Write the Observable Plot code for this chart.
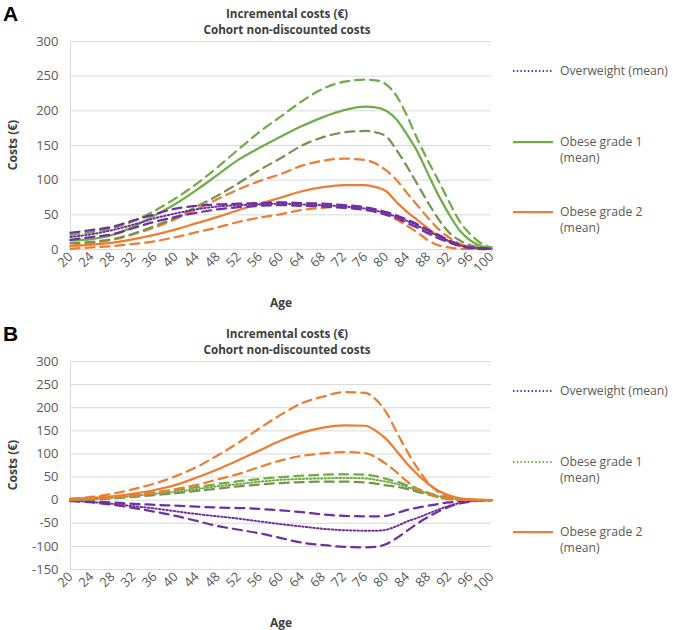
<!DOCTYPE html>
<html><head><meta charset="utf-8">
<script src="https://cdn.jsdelivr.net/npm/d3@7"></script>
<script src="https://cdn.jsdelivr.net/npm/@observablehq/plot@0.6"></script>
<style>
body{margin:0;background:#fff;}
#wrap{position:relative;width:673px;height:630px;font-family:"Open Sans","Noto Sans",sans-serif;overflow:hidden;}
.abs{position:absolute;white-space:nowrap;}
.letter{font-family:"Liberation Sans",Arial,sans-serif;font-weight:bold;font-size:21px;color:#000;}
.title{font-weight:bold;font-size:11.7px;color:#404040;line-height:16px;}
.axlab{font-weight:bold;font-size:12px;color:#404040;}
.leg{font-size:12.2px;color:#595959;line-height:16px;}
svg.plot{position:absolute;left:0;}
</style></head><body><div id="wrap"></div>
<script>
// ---------- data ----------
const ages = [20,24,28,32,36,40,44,48,52,56,60,64,68,72,76,78,80,82,84,86,88,90,92,94,96,98,100];
const xTickLabels = [20,24,28,32,36,40,44,48,52,56,60,64,68,72,76,80,84,88,92,96,100];
const yTicksA = [0,50,100,150,200,250,300];
const yTicksB = [-150,-100,-50,0,50,100,150,200,250,300];

// Panel A
const aOwMean = [18,22,28,36,45,52,58,62,64,65,66,65,64,62,59,56,52,47,41,34,26,19,12,6,3,1.5,1];
const aOwHigh = [24,28,33,42,51,59,63,65,66,67,68,67,66,64,61,58,54,49,43,36,28,21,13,7,3,2,1];
const aOwLow  = [14,18,22,31,40,47,53,58,61,63,64,63,62,60,57,54,50,45,38,31,23,16,10,5,2,1,1];
const aOb1Mean = [13,15,21,33,49,66,86,108,130,147,163,178,191,201,206,205,200,187,165,140,108,77,50,27,13,5,2];
const aOb1High = [21,25,31,41,56,74,95,119,145,170,192,214,232,242,245,244,238,221,192,158,127,98,68,40,22,9,3];
const aOb1Low  = [9,11,15,23,34,46,62,78,96,115,132,150,162,169,171,169,163,143,119,93,67,43,24,13,6,3,1];
const aOb2Mean = [5,7,10,15,21,29,38,47,57,66,75,84,90,93,93,90,84,68,54,42,30,19,11,6,3,1.5,1];
const aOb2High = [5,9,14,22,32,44,58,73,87,99,109,121,128,131,129,124,114,100,81,63,45,29,17,8,4,2,1];
const aOb2Low  = [1,3,5,8,12,18,25,32,40,46,51,57,60,62,60,57,52,43,34,24,13,6,3,1,1,0.5,0];

// Panel B
const bOwMean = [-1,-4,-8,-13,-18,-24,-30,-35,-40,-46,-52,-57,-62,-65,-66,-66,-64,-56,-46,-38,-29,-20,-12,-6,-2,-1,0];
const bOwHigh = [-1,-3,-5,-8,-10,-12,-14,-16,-17,-19,-22,-26,-31,-34,-35,-35,-34,-28,-21,-16,-12,-8,-5,-3,-1,0,0];
const bOwLow  = [-2,-5,-10,-17,-25,-34,-45,-56,-64,-72,-82,-92,-97,-101,-102,-101,-95,-82,-66,-50,-36,-24,-14,-7,-3,-1,0];
const bOb1Mean = [1,2,5,9,14,18,24,30,35,40,44,46,47,48,47,44,40,35,28,21,14,8,4,2,1,0,0];
const bOb1High = [2,4,7,12,17,22,28,35,41,46,50,53,55,56,55,52,46,40,32,24,16,9,5,2,1,0,0];
const bOb1Low  = [0,1,4,7,11,15,20,25,30,34,37,39,40,40,38,36,32,29,24,18,12,7,3,1,0,0,0];
const bOb2Mean = [3,5,8,14,22,33,49,67,87,108,129,146,157,162,161,150,132,106,78,55,35,20,10,4,2,1,0];
const bOb2High = [3,7,14,24,36,52,72,97,125,156,185,210,224,234,232,218,190,147,105,68,37,17,7,3,1,0,0];
const bOb2Low  = [1,3,6,10,16,24,33,45,57,72,86,96,101,104,102,93,78,60,40,24,14,6,2,1,0,0,0];

// ---------- styles ----------
const PURPLE = "#7030A0", GREEN = "#70AD47", OLIVE = "#7B9152", ORANGE = "#ED7D31";
const DASH = "9,6", DOT = "1.5,2.2";

const seriesA = [
  {v: aOb2Low, c: ORANGE, d: DASH, w: 2.25},
  {v: aOb2High, c: ORANGE, d: DASH, w: 2.25},
  {v: aOb2Mean, c: ORANGE, d: null, w: 2.25},
  {v: aOb1Low, c: OLIVE, d: DASH, w: 2.25},
  {v: aOb1High, c: GREEN, d: DASH, w: 2.25},
  {v: aOb1Mean, c: GREEN, d: null, w: 2.25},
  {v: aOwLow, c: PURPLE, d: DASH, w: 2.25},
  {v: aOwHigh, c: PURPLE, d: DASH, w: 2.25},
  {v: aOwMean, c: PURPLE, d: DOT, w: 2},
];
const seriesB = [
  {v: bOwLow, c: PURPLE, d: DASH, w: 2.25},
  {v: bOwHigh, c: PURPLE, d: DASH, w: 2.25},
  {v: bOwMean, c: PURPLE, d: DOT, w: 2},
  {v: bOb1Low, c: OLIVE, d: DASH, w: 2.25},
  {v: bOb1High, c: GREEN, d: DASH, w: 2.25},
  {v: bOb1Mean, c: GREEN, d: DOT, w: 2},
  {v: bOb2Low, c: ORANGE, d: DASH, w: 2.25},
  {v: bOb2High, c: ORANGE, d: DASH, w: 2.25},
  {v: bOb2Mean, c: ORANGE, d: null, w: 2.25},
];
const legendA = [
  {lines: ["Overweight (mean)"], c: PURPLE, d: DOT},
  {lines: ["Obese grade 1", "(mean)"], c: GREEN, d: null},
  {lines: ["Obese grade 2", "(mean)"], c: ORANGE, d: null},
];
const legendB = [
  {lines: ["Overweight (mean)"], c: PURPLE, d: DOT},
  {lines: ["Obese grade 1", "(mean)"], c: GREEN, d: DOT},
  {lines: ["Obese grade 2", "(mean)"], c: ORANGE, d: null},
];

const wrap = document.getElementById("wrap");
function put(text, x, y, cls, mode) {
  const el = document.createElement("div");
  el.className = "abs " + cls;
  el.textContent = text;
  el.style.left = x + "px";
  el.style.top = y + "px";
  if (mode === "center") el.style.transform = "translate(-50%,-50%)";
  else if (mode === "rot") el.style.transform = "translate(-50%,-50%) rotate(-90deg)";
  wrap.appendChild(el);
  return el;
}

function panel(series, yTicks, legend, letter, top) {
  const marks = [
    Plot.gridY(yTicks, {stroke: "#d9d9d9", strokeOpacity: 1, strokeWidth: 1}),
    Plot.ruleX([ages[0]], {stroke: "#d9d9d9", strokeWidth: 1}),
  ];
  for (const s of series) {
    const rows = ages.map((a, i) => ({age: a, cost: s.v[i]}));
    marks.push(Plot.line(rows, {x: "age", y: "cost", stroke: s.c, strokeWidth: s.w,
      strokeDasharray: s.d || undefined, curve: "monotone-x"}));
  }
  marks.push(
    Plot.axisX(xTickLabels, {tickRotate: -45, tickSize: 0, tickPadding: 5, label: null, tickFormat: d => String(d), fill: "#595959"}),
    Plot.axisY(yTicks, {tickSize: 0, tickPadding: 12, label: null, tickFormat: d => String(d), fill: "#595959"})
  );
  const svg = Plot.plot({
    width: 500, height: 315,
    marginLeft: 70, marginRight: 9, marginTop: 41, marginBottom: 66,
    x: {domain: [20, 100]},
    y: {domain: [yTicks[0], yTicks[yTicks.length - 1]]},
    style: {fontFamily: "'Open Sans', 'Noto Sans', sans-serif", fontSize: "13px", background: "transparent", color: "#595959"},
    marks
  });
  svg.classList.add("plot");
  svg.style.top = top + "px";
  wrap.appendChild(svg);

  put(letter, 3, top + 14, "letter").style.transform = "translate(0,-50%)";
  put("Incremental costs (€)", 287, top + 13, "title", "center");
  put("Cohort non-discounted costs", 287, top + 29, "title", "center");
  put("Costs (€)", 12, top + 145, "axlab", "rot");
  put("Age", 281, top + 302, "axlab", "center");

  const ly = [71, 142, 212];
  legend.forEach((l, k) => {
    const y = top + ly[k];
    const ns = "http://www.w3.org/2000/svg";
    const s = document.createElementNS(ns, "svg");
    s.setAttribute("width", 42); s.setAttribute("height", 6);
    s.style.position = "absolute"; s.style.left = "512px"; s.style.top = (y - 3) + "px";
    const ln = document.createElementNS(ns, "line");
    ln.setAttribute("x1", 1); ln.setAttribute("x2", 41); ln.setAttribute("y1", 3); ln.setAttribute("y2", 3);
    ln.setAttribute("stroke", l.c); ln.setAttribute("stroke-width", l.d ? 2 : 2.25);
    if (l.d) ln.setAttribute("stroke-dasharray", l.d);
    s.appendChild(ln);
    wrap.appendChild(s);
    const el = document.createElement("div");
    el.className = "abs leg";
    el.style.left = "560px";
    el.style.top = (y - 8) + "px";
    l.lines.forEach((t, j) => {
      if (j) el.appendChild(document.createElement("br"));
      el.appendChild(document.createTextNode(t));
    });
    wrap.appendChild(el);
  });
}

panel(seriesA, yTicksA, legendA, "A", 0);
panel(seriesB, yTicksB, legendB, "B", 320);
</script>
</body></html>
